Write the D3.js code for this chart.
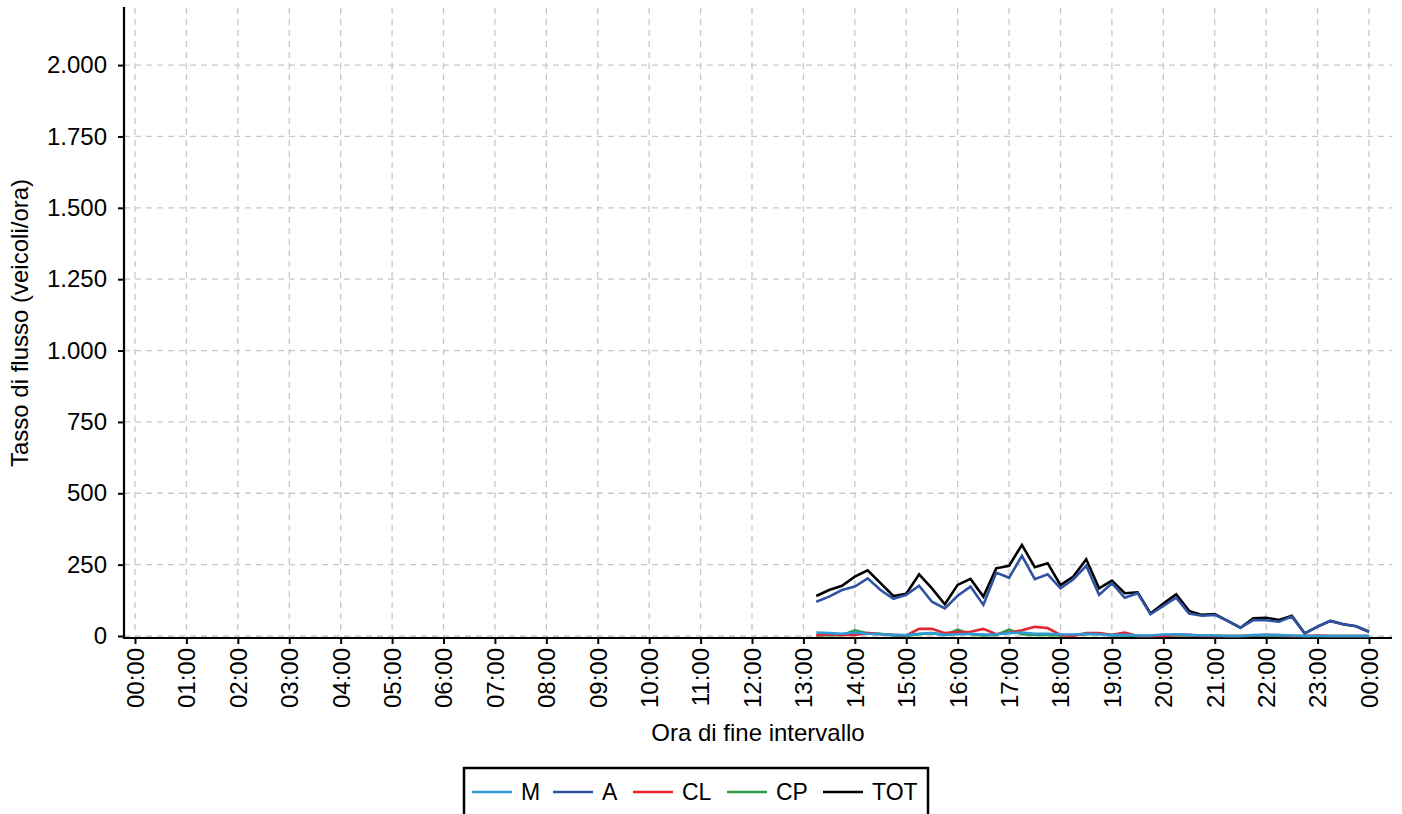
<!DOCTYPE html>
<html><head><meta charset="utf-8">
<script src="https://cdn.jsdelivr.net/npm/d3@7"></script>
<style>
html,body{margin:0;padding:0;background:#fff;}
svg{display:block;font-family:"Liberation Sans",Arial,sans-serif;}
</style></head>
<body>
<svg id="c" width="1402" height="814"></svg>
<script>
const hourTicks = ["00:00","01:00","02:00","03:00","04:00","05:00","06:00","07:00","08:00","09:00","10:00","11:00","12:00","13:00","14:00","15:00","16:00","17:00","18:00","19:00","20:00","21:00","22:00","23:00","00:00"];
const yTicks = [0,250,500,750,1000,1250,1500,1750,2000];
const times = ["13:15","13:30","13:45","14:00","14:15","14:30","14:45","15:00","15:15","15:30","15:45","16:00","16:15","16:30","16:45","17:00","17:15","17:30","17:45","18:00","18:15","18:30","18:45","19:00","19:15","19:30","19:45","20:00","20:15","20:30","20:45","21:00","21:15","21:30","21:45","22:00","22:15","22:30","22:45","23:00","23:15","23:30","23:45","24:00"];
const seriesM   = [12,10,8,12,8,6,4,3,8,10,4,6,8,5,6,10,12,8,8,6,5,8,6,3,4,2,2,5,6,4,2,2,0,0,3,4,3,2,0,0,0,0,0,0];
const seriesA   = [120,138,161,173,202,161,130,144,176,120,97,141,173,109,222,204,281,199,216,167,199,246,144,185,134,150,76,105,134,79,71,74,53,29,56,55,50,68,9,33,53,41,34,15];
const seriesCL  = [3,5,4,4,10,6,4,2,25,25,10,14,15,25,6,12,20,32,28,4,0,10,10,4,12,0,0,0,4,4,0,0,0,0,2,4,3,0,0,2,0,0,0,0];
const seriesCP  = [2,4,3,20,10,8,2,0,6,10,3,22,6,2,4,22,6,4,4,2,4,6,8,2,2,0,0,2,2,2,1,1,0,0,1,1,0,0,0,0,0,0,0,0];
const seriesTOT = [140,161,176,208,230,185,140,148,216,167,111,179,200,138,237,246,319,241,255,178,208,269,167,194,150,153,79,114,146,88,74,77,53,29,62,64,56,71,9,33,53,41,34,15];
const names  = ["M","A","CL","CP","TOT"];
const colors = {M:"#2c9ad5",A:"#2f52a3",CL:"#e3262d",CP:"#2b9a4a",TOT:"#000000"};
const data = {M:seriesM,A:seriesA,CL:seriesCL,CP:seriesCP,TOT:seriesTOT};

const svg = d3.select("#c");
const FS = 24;
const x = d3.scaleLinear().domain([0,24]).range([135,1369]);
const y = d3.scaleLinear().domain([0,2200]).range([636,8]);
const toH = t => { const [h,m] = t.split(":").map(Number); return h + m/60; };

// grid
const g = svg.append("g");
g.selectAll("line.v").data(d3.range(25)).enter().append("line")
  .attr("x1",d=>x(d)).attr("x2",d=>x(d)).attr("y1",8).attr("y2",636)
  .attr("stroke","#c8c8c8").attr("stroke-width",1.3).attr("stroke-dasharray","6,5");
g.selectAll("line.h").data(yTicks).enter().append("line")
  .attr("x1",124).attr("x2",1392).attr("y1",d=>y(d)).attr("y2",d=>y(d))
  .attr("stroke","#c8c8c8").attr("stroke-width",1.3).attr("stroke-dasharray","6,5");

// y axis
const ya = svg.append("g").attr("transform","translate(124,0)")
  .call(d3.axisLeft(y).tickValues(yTicks).tickSize(6).tickPadding(11)
    .tickFormat(d=>d3.format(",")(d).replace(/,/g,".")));
ya.select(".domain").remove();
ya.selectAll(".tick line").attr("stroke","#000").attr("stroke-width",2);
ya.selectAll(".tick text").attr("font-size",FS).attr("fill","#000").attr("font-family","Liberation Sans, Arial, sans-serif");
svg.append("line").attr("x1",124).attr("x2",124).attr("y1",7).attr("y2",639).attr("stroke","#000").attr("stroke-width",2.2);

// x axis
const xa = svg.append("g").attr("transform","translate(0,638)")
  .call(d3.axisBottom(x).tickValues(d3.range(25)).tickSize(6).tickFormat((d,i)=>hourTicks[i]));
xa.select(".domain").remove();
xa.selectAll(".tick line").attr("stroke","#000").attr("stroke-width",2);
xa.selectAll(".tick text").attr("font-size",FS).attr("fill","#000")
  .attr("font-family","Liberation Sans, Arial, sans-serif")
  .attr("transform","rotate(-90)").attr("text-anchor","end")
  .attr("x",-10).attr("y",0).attr("dy","0.35em");
svg.append("line").attr("x1",123).attr("x2",1392).attr("y1",638).attr("y2",638).attr("stroke","#000").attr("stroke-width",2.2);

// lines
const line = d3.line().x((d,i)=>x(toH(times[i]))).y(d=>y(d));
["TOT","CP","CL","A","M"].forEach(k=>{
  svg.append("path").datum(data[k]).attr("d",line).attr("fill","none")
    .attr("stroke",colors[k]).attr("stroke-width",2.6).attr("stroke-linejoin","miter");
});

// titles
svg.append("text").attr("x",758).attr("y",741).attr("text-anchor","middle").attr("font-size",FS).text("Ora di fine intervallo");
svg.append("text").attr("transform","translate(28,323) rotate(-90)").attr("text-anchor","middle").attr("font-size",FS).text("Tasso di flusso (veicoli/ora)");

// legend
svg.append("rect").attr("x",464).attr("y",768).attr("width",464).attr("height",60)
  .attr("fill","#fff").attr("stroke","#000").attr("stroke-width",2.5);
const lx = [472,553,633,727,823];
names.forEach((n,i)=>{
  svg.append("line").attr("x1",lx[i]).attr("x2",lx[i]+40).attr("y1",792).attr("y2",792)
    .attr("stroke",colors[n]).attr("stroke-width",2.5);
  svg.append("text").attr("x",lx[i]+49).attr("y",800).attr("font-size",23).text(n);
});
</script>
</body></html>
